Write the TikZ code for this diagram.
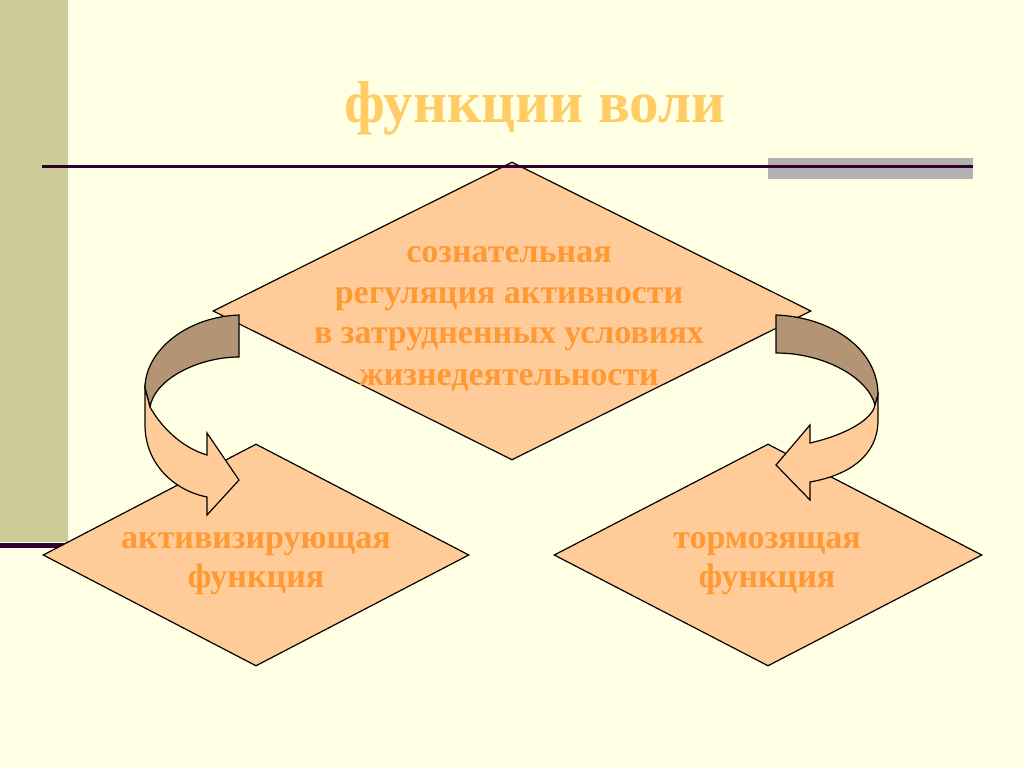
\documentclass[tikz,border=0pt]{standalone}
\usepackage{fontspec}
\setmainfont{Liberation Serif}
\usetikzlibrary{shapes.geometric}
\definecolor{bg}{HTML}{FFFFE3}
\definecolor{barcol}{HTML}{CCCC99}
\definecolor{rulecol}{HTML}{330033}
\definecolor{grayband}{HTML}{B2B2B2}
\definecolor{peach}{HTML}{FFCC99}
\definecolor{txtcol}{HTML}{FF9933}
\definecolor{ttlcol}{HTML}{FFCC66}
\definecolor{backcol}{HTML}{B39475}
\begin{document}
\begin{tikzpicture}[x=1pt,y=-1pt,
 dia/.style={draw=black, line width=1.2pt, fill=peach, diamond, inner sep=0pt},
 lbl/.style={anchor=base, text=txtcol, font=\fontsize{34}{40}\selectfont\bfseries, inner sep=0pt},
 arrowfront/.style={draw=black, line width=1.2pt, fill=peach, line join=miter},
 arrowback/.style={draw=black, line width=1.2pt, fill=backcol, line join=miter}]
\fill[bg] (0,0) rectangle (1024,768);
\useasboundingbox (0,0) rectangle (1024,768);
\fill[barcol] (0,0) rectangle (68,542);
\fill[rulecol] (0,543) rectangle (68,548);
\fill[grayband] (768,158) rectangle (973,179);
\node[anchor=base, text=ttlcol, font=\fontsize{59}{70}\selectfont\bfseries, inner sep=0pt] (title) at (535,122) {функции воли};
\node[dia, minimum width=598pt, minimum height=298pt] (top) at (512,311) {};
\draw[rulecol, line width=3pt] (42,166.5) -- (973,166.5);
\node[dia, minimum width=426pt, minimum height=222pt] (left) at (256,555) {};
\node[dia, minimum width=428pt, minimum height=222pt] (right) at (768,555) {};
\node[lbl] (t1) at (509,262) {сознательная};
\node[lbl] (t2) at (509,303) {регуляция активности};
\node[lbl] (t3) at (509,343) {в затрудненных условиях};
\node[lbl] (t4) at (509,385) {жизнедеятельности};
\node[lbl] (l1) at (256,548) {активизирующая};
\node[lbl] (l2) at (256,587) {функция};
\node[lbl] (r1) at (767,548) {тормозящая};
\node[lbl] (r2) at (767,587) {функция};
% left curved arrow
\draw[arrowback] (239,315) .. controls (185,317) and (145,352) .. (145,388) -- (150,407) .. controls (155,378) and (200,357) .. (239,357) -- cycle;
\draw[arrowfront] (145,388) -- (145,425) .. controls (145,462) and (172,490) .. (207,497) -- (207,515) -- (239,480) -- (207,433) -- (207,455) .. controls (180,447) and (160,425) .. (150,407) -- cycle;
% right curved arrow
\draw[arrowback] (776,315) .. controls (830,317) and (878,348) .. (878,395) -- (875,405) .. controls (868,378) and (825,353) .. (776,353) -- cycle;
\draw[arrowfront] (878,395) -- (878,420) .. controls (878,455) and (850,475) .. (810,482) -- (810,500) -- (776,465) -- (810,425) -- (810,443) .. controls (845,435) and (872,420) .. (875,405) -- cycle;
\end{tikzpicture}
\end{document}
